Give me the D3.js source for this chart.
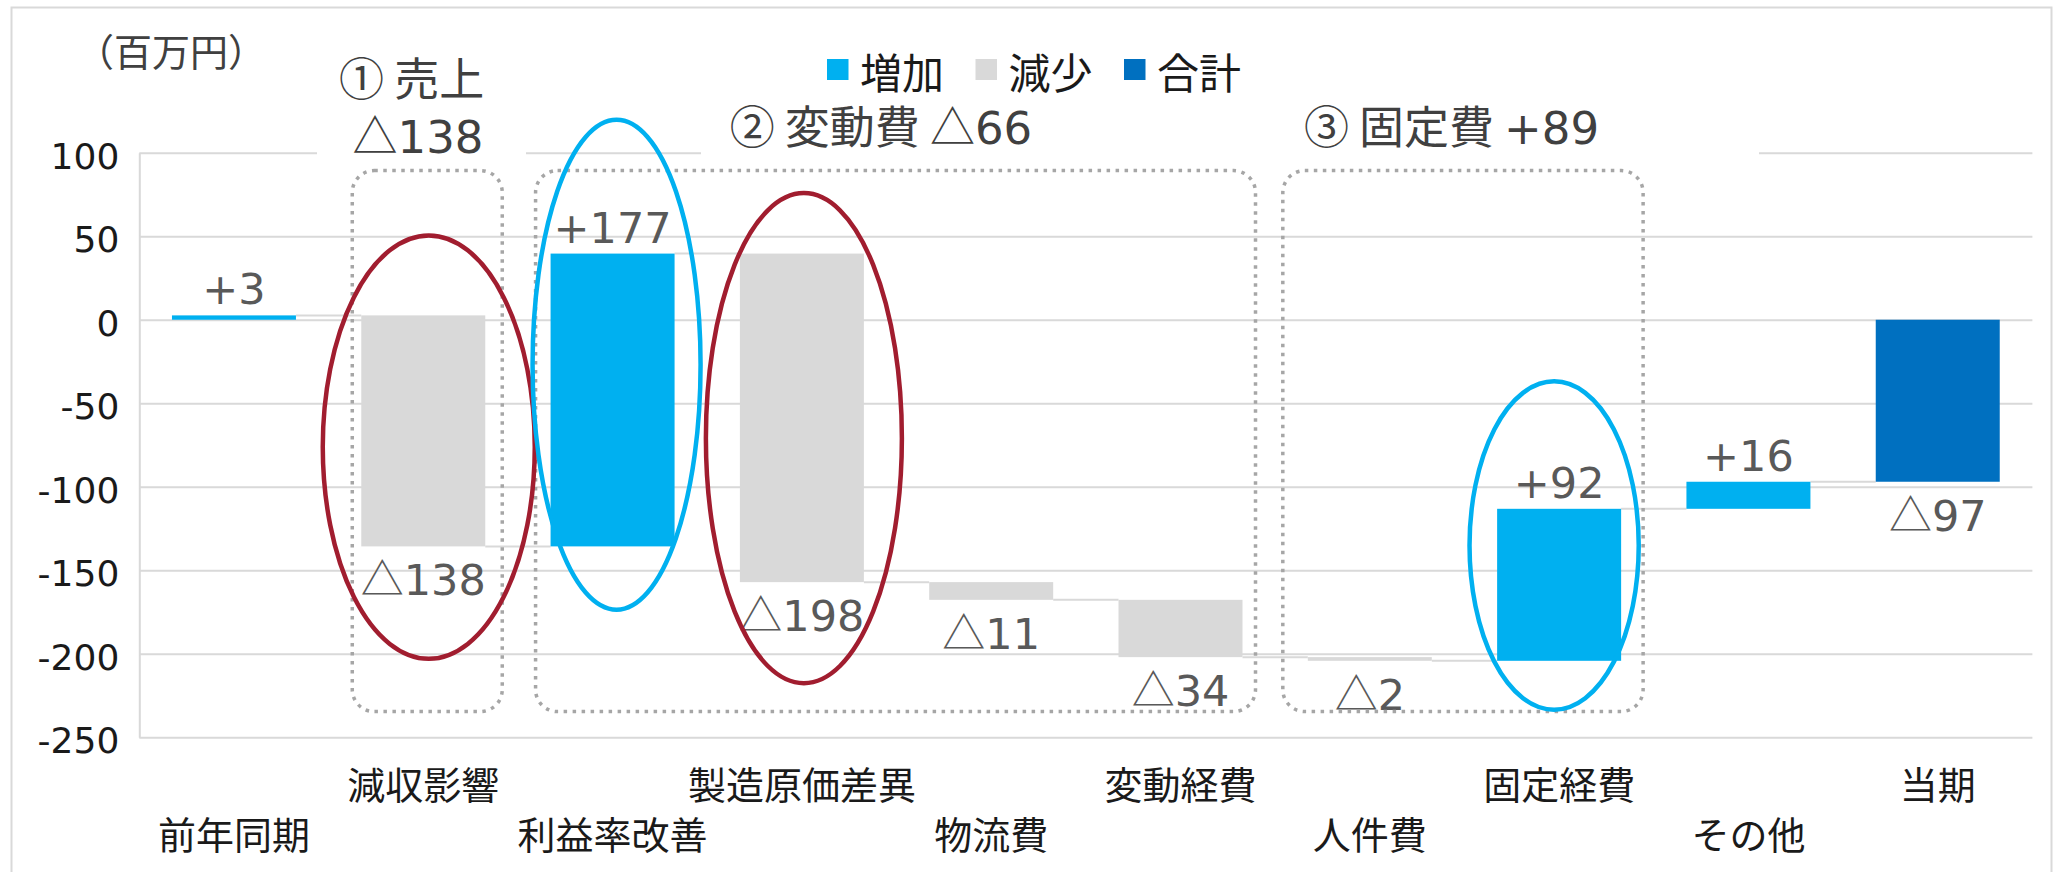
<!DOCTYPE html>
<html><head><meta charset="utf-8">
<script src="https://cdn.jsdelivr.net/npm/d3@7"></script>
<style>body{margin:0;background:#fff;} svg{display:block}</style>
</head><body>
<svg id="chart" width="2058" height="872"></svg>
<script>
// ---------- data ----------
const categories = ['前年同期','減収影響','利益率改善','製造原価差異','物流費','変動経費','人件費','固定経費','その他','当期'];
const deltas = [2.6, -138.3, 175.3, -196.7, -10.6, -34.3, -2.2, 91.0, 16.2, null];
const totalValue = -97.0;
const kinds = ['inc','dec','inc','dec','dec','dec','dec','inc','inc','total'];
const valueLabels = ['+3','△138','+177','△198','△11','△34','△2','+92','+16','△97'];
const yTicks = [100, 50, 0, -50, -100, -150, -200, -250];
const legendKeys = ['inc','dec','total'];
const legendLabels = ['増加','減少','合計'];
const unitLabel = '（百万円）';
const groupSpans = [['減収影響','減収影響'],['利益率改善','変動経費'],['人件費','固定経費']];
const groupTitles = [['① 売上','△138'],['② 変動費 △66'],['③ 固定費 +89']];
const groupRange = [89.3, -234.6];
const ovalCats = ['減収影響','利益率改善','製造原価差異','固定経費'];
const ovalRanges = [[50.5,-203],[119.7,-173.6],[75.8,-217.6],[-36.9,-233.5]];
const ovalKinds = ['red','blue','red','blue'];

// ---------- style / layout ----------
const NUM_FONT = '"DejaVu Sans", "Noto Sans CJK JP", sans-serif';
const JP_FONT = '"Noto Sans CJK JP", sans-serif';
const colors = {inc:'#00B0F0', dec:'#D9D9D9', total:'#0070C0'};
const ovalColors = {red:'#A11D2F', blue:'#00B0F0'};
const grid = '#D9D9D9';
const plot = {left:139.3, right:2032.4, top:152.7, bottom:737.3};
const groupPads = [[9,17],[15,13],[25,22]];
const titlePos = [[[411.6,96],[418,153]],[[881,143.5]],[[1451.5,143.5]]];
const whiteBoxes = [[317,40,209,122],[701,95,1058,67]];
const ovalRx = [106, 84, 98, 84.6];
const ovalDx = [5.5, 4, 2, -5];

const svg = d3.select('#chart');

function rich(sel, str) {
  const runs = str.match(/[0-9+\-.]+|[^0-9+\-.]+/g);
  runs.forEach(r => {
    sel.append('tspan')
      .attr('font-family', /[0-9+\-.]/.test(r[0]) ? NUM_FONT : JP_FONT)
      .text(r);
  });
}

// outer border
svg.append('rect').attr('x',11.5).attr('y',7.5).attr('width',2040).attr('height',880)
  .attr('fill','none').attr('stroke','#D9D9D9').attr('stroke-width',2);

const x = d3.scaleBand().domain(categories).range([plot.left, plot.right])
  .paddingInner(0.345).paddingOuter(0.1725);
const y = d3.scaleLinear().domain([-250, 100]).range([plot.bottom, plot.top]);
const bw = x.bandwidth();

// y axis with gridlines
const yAxis = svg.append('g').attr('transform',`translate(${plot.left},0)`)
  .call(d3.axisLeft(y).tickValues(yTicks).tickFormat(d => String(d))
    .tickSize(-(plot.right-plot.left)).tickSizeOuter(0).tickPadding(20));
yAxis.select('.domain').attr('stroke', grid).attr('stroke-width', 2);
yAxis.selectAll('.tick line').attr('stroke', grid).attr('stroke-width', 2);
yAxis.selectAll('.tick text').attr('font-family', NUM_FONT).attr('font-size', 36)
  .attr('fill', '#1a1a1a').attr('dy', '0.43em');

// white text boxes over gridline
whiteBoxes.forEach(b => svg.append('rect').attr('x',b[0]).attr('y',b[1]).attr('width',b[2]).attr('height',b[3]).attr('fill','#fff'));

// x axis labels (two staggered rows)
const xAxis = svg.append('g').call(d3.axisBottom(x).tickSize(0).tickPadding(0));
xAxis.select('.domain').remove();
xAxis.selectAll('.tick text')
  .attr('font-family', JP_FONT).attr('font-size', 38).attr('fill', '#1a1a1a')
  .attr('dy', 0)
  .attr('y', (d,i) => i % 2 === 1 ? 799 : 849);

// waterfall computation
let cum = 0;
const bars = categories.map((c,i) => {
  if (kinds[i] === 'total') return {c, s:0, e:totalValue, kind:'total', label:valueLabels[i]};
  const s = cum; cum += deltas[i];
  return {c, s, e:cum, kind:kinds[i], label:valueLabels[i]};
});

// connectors
svg.append('g').selectAll('line').data(bars.slice(0,-1)).join('line')
  .attr('x1', d => x(d.c) + bw)
  .attr('x2', (d,i) => x(categories[i+1]))
  .attr('y1', d => y(d.e)).attr('y2', d => y(d.e))
  .attr('stroke', grid).attr('stroke-width', 2);

// bars
svg.append('g').selectAll('rect').data(bars).join('rect')
  .attr('x', d => x(d.c)).attr('width', bw)
  .attr('y', d => y(Math.max(d.s, d.e)))
  .attr('height', d => Math.abs(y(d.s) - y(d.e)))
  .attr('fill', d => colors[d.kind]);

// value labels
const vl = svg.append('g');
bars.forEach(d => {
  const up = d.kind === 'inc';
  const yy = up ? y(Math.max(d.s,d.e)) - 11 : y(Math.min(d.s,d.e)) + 49;
  const t = vl.append('text').attr('x', x(d.c) + bw/2).attr('y', yy)
    .attr('text-anchor','middle').attr('font-size', 43).attr('fill', '#595959');
  rich(t, d.label);
});

// group dotted rects + titles
groupSpans.forEach((g,i) => {
  const x0 = x(g[0]) - groupPads[i][0];
  const x1 = x(g[1]) + bw + groupPads[i][1];
  svg.append('rect').attr('x', x0).attr('y', y(groupRange[0]))
    .attr('width', x1 - x0).attr('height', y(groupRange[1]) - y(groupRange[0]))
    .attr('rx', 22).attr('ry', 22).attr('fill','none')
    .attr('stroke','#A6A6A6').attr('stroke-width',3.5).attr('stroke-dasharray','3.5 5.5');
  const t = svg.append('text').attr('text-anchor','middle').attr('font-size', 45).attr('fill','#404040');
  groupTitles[i].forEach((line,j) => {
    const ln = t.append('tspan').attr('x', titlePos[i][j][0]).attr('y', titlePos[i][j][1]);
    rich(ln, line);
  });
});

// ovals
ovalCats.forEach((c,i) => {
  const top = y(ovalRanges[i][0]), bot = y(ovalRanges[i][1]);
  svg.append('ellipse').attr('cx', x(c) + bw/2 + ovalDx[i]).attr('cy', (top+bot)/2)
    .attr('rx', ovalRx[i]).attr('ry', (bot-top)/2)
    .attr('fill','none').attr('stroke', ovalColors[ovalKinds[i]]).attr('stroke-width', 4.5);
});

// unit label
svg.append('text').attr('x', 171).attr('y', 66).attr('text-anchor','middle')
  .attr('font-family', JP_FONT).attr('font-size', 38).attr('fill','#404040').text(unitLabel);

// legend
const lg = svg.append('g');
legendKeys.forEach((k,i) => {
  const lx = 827 + i*148.5;
  lg.append('rect').attr('x', lx).attr('y', 59).attr('width', 21.5).attr('height', 21).attr('fill', colors[k]);
  lg.append('text').attr('x', lx + 33).attr('y', 88.5).attr('font-family', JP_FONT)
    .attr('font-size', 42).attr('fill', '#1a1a1a').text(legendLabels[i]);
});
</script>
</body></html>
